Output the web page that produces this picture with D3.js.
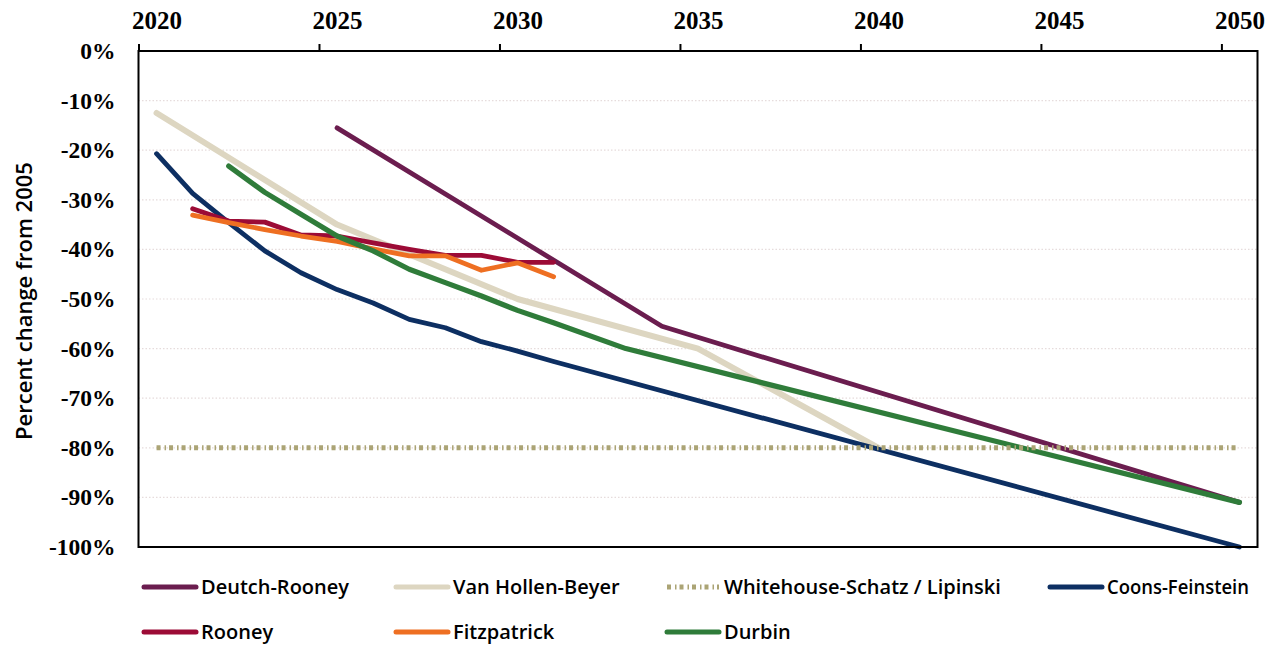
<!DOCTYPE html>
<html>
<head>
<meta charset="utf-8">
<script src="https://cdn.jsdelivr.net/npm/d3@7"></script>
<style>
  html, body { margin: 0; padding: 0; background: #fff; }
  svg { display: block; }
</style>
</head>
<body>
<svg id="chart" width="1276" height="646"></svg>
<script>
// ---- Data (percent change from 2005) ----
const xTickYears = [2020, 2025, 2030, 2035, 2040, 2045, 2050];
const yTickValues = [0, -10, -20, -30, -40, -50, -60, -70, -80, -90, -100];
const gridValues = [-10, -20, -30, -40, -50, -60, -70, -80, -90];

const seriesNames = ["Deutch-Rooney", "Van Hollen-Beyer", "Whitehouse-Schatz / Lipinski", "Coons-Feinstein", "Rooney", "Fitzpatrick", "Durbin"];

const deutchRooneyYears = [2025, 2034, 2050];
const deutchRooneyValues = [-15.5, -55.5, -91];

const vanHollenYears = [2020, 2025, 2030, 2035, 2040];
const vanHollenValues = [-12.5, -35, -50, -60, -80];

const whitehouseYears = [2020, 2050];
const whitehouseValues = [-80, -80];

const coonsYears = [2020, 2021, 2022, 2023, 2024, 2025, 2026, 2027, 2028, 2029, 2030, 2031, 2050];
const coonsValues = [-20.7, -28.7, -34.6, -40.3, -44.7, -48.1, -50.8, -54.1, -55.8, -58.6, -60.5, -62.6, -100];

const rooneyYears = [2021, 2022, 2023, 2024, 2025, 2026, 2027, 2028, 2029, 2030, 2031];
const rooneyValues = [-31.8, -34.3, -34.5, -37.1, -37.3, -38.7, -40.0, -41.2, -41.2, -42.6, -42.6];

const fitzpatrickYears = [2021, 2022, 2023, 2024, 2025, 2026, 2027, 2028, 2029, 2030, 2031];
const fitzpatrickValues = [-33.1, -34.6, -36.0, -37.3, -38.4, -39.9, -41.3, -41.3, -44.2, -42.7, -45.5];

const durbinYears = [2022, 2023, 2024, 2025, 2026, 2027, 2028, 2029, 2030, 2031, 2033, 2050];
const durbinValues = [-23.2, -28.5, -32.9, -37.3, -40.3, -44.0, -46.7, -49.4, -52.3, -54.8, -60.0, -91];

const seriesColors = ["#6b1d4f", "#ddd6c1", "#aba475", "#0d2f62", "#9c0b36", "#ee6f22", "#2f7c3a"];

// ---- Layout ----
const svg = d3.select("#chart");
const plot = { left: 138.5, right: 1257.5, top: 51, bottom: 547 };

const x = d3.scaleLinear().domain([2019.5, 2050.5]).range([plot.left, plot.right]);
const y = d3.scaleLinear().domain([-100, 0]).range([plot.bottom, plot.top]);

const serif = "'Liberation Serif', 'DejaVu Serif', serif";
const sans = "'Open Sans', 'Noto Sans', sans-serif";

// gridlines
svg.append("g").selectAll("line").data(gridValues).join("line")
  .attr("x1", plot.left).attr("x2", plot.right)
  .attr("y1", d => y(d)).attr("y2", d => y(d))
  .attr("stroke", "#e6dcdc").attr("stroke-width", 1.2)
  .attr("stroke-dasharray", "1.5,2");

// series
const series = [
  { years: deutchRooneyYears, values: deutchRooneyValues, w: 4.8 },
  { years: vanHollenYears, values: vanHollenValues, w: 6 },
  { years: whitehouseYears, values: whitehouseValues, w: 5, dash: true },
  { years: coonsYears, values: coonsValues, w: 4.8 },
  { years: rooneyYears, values: rooneyValues, w: 4.8 },
  { years: fitzpatrickYears, values: fitzpatrickValues, w: 4.8 },
  { years: durbinYears, values: durbinValues, w: 5.2 }
].map((s, i) => ({ ...s, name: seriesNames[i], color: seriesColors[i] }));

const line = d3.line().x(d => x(d[0])).y(d => y(d[1]));

const drawOrder = [0, 1, 3, 4, 5, 6, 2];
const lg = svg.append("g");
drawOrder.forEach(i => {
  const s = series[i];
  const pts = s.years.map((yr, j) => [yr, s.values[j]]);
  const p = lg.append("path").datum(pts)
    .attr("d", line)
    .attr("fill", "none")
    .attr("stroke", s.color)
    .attr("stroke-width", s.w)
    .attr("stroke-linejoin", "round");
  if (s.dash) {
    p.attr("stroke-dasharray", "4,4,1.5,3").attr("stroke-linecap", "butt");
  } else {
    p.attr("stroke-linecap", "round");
  }
});

// frame
svg.append("rect")
  .attr("x", plot.left).attr("y", plot.top)
  .attr("width", plot.right - plot.left).attr("height", plot.bottom - plot.top)
  .attr("fill", "none").attr("stroke", "#000").attr("stroke-width", 2);

// top axis: labels at category centers
const xLabelAxis = d3.axisTop(x).tickValues(xTickYears).tickSize(0).tickPadding(22).tickFormat(d3.format("d"));
const gx = svg.append("g").attr("transform", `translate(0,${plot.top})`).call(xLabelAxis);
gx.select(".domain").remove();
gx.selectAll("text").attr("font-family", serif).attr("font-size", 25).attr("font-weight", "bold").attr("fill", "#000");

// top axis tick marks at category boundaries
const xTickAxis = d3.axisTop(x).tickValues(xTickYears.map(v => v - 0.5)).tickSize(7).tickFormat("");
const gxt = svg.append("g").attr("transform", `translate(0,${plot.top})`).call(xTickAxis);
gxt.select(".domain").remove();
gxt.selectAll("line").attr("stroke", "#000").attr("stroke-width", 2);

// left axis
const yAxis = d3.axisLeft(y).tickValues(yTickValues).tickSize(0).tickPadding(23).tickFormat(d => d + "%");
const gy = svg.append("g").attr("transform", `translate(${plot.left},0)`).call(yAxis);
gy.select(".domain").remove();
gy.selectAll("text").attr("font-family", serif).attr("font-size", 23.5).attr("font-weight", "bold").attr("fill", "#000");

// y title
svg.append("text")
  .attr("transform", `translate(32,${(plot.top + plot.bottom) / 2 + 2}) rotate(-90)`)
  .attr("text-anchor", "middle")
  .attr("font-family", sans).attr("font-weight", 600).attr("font-size", 22)
  .attr("fill", "#000")
  .text("Percent change from 2005");

// legend
const legendCols = [144, 396, 667, 1050];
const legendRows = [587, 632];
const legendPos = [[0,0],[1,0],[2,0],[3,0],[0,1],[1,1],[2,1]];
series.forEach((s, i) => {
  const [c, r] = legendPos[i];
  const gx0 = legendCols[c], gy0 = legendRows[r];
  const g = svg.append("g").attr("transform", `translate(${gx0},${gy0})`);
  const l = g.append("line").attr("x1", 0).attr("x2", 52).attr("y1", 0).attr("y2", 0)
    .attr("stroke", s.color).attr("stroke-width", 5);
  if (s.dash) l.attr("stroke-dasharray", "4,4,1.5,3");
  else l.attr("stroke-linecap", "round");
  const t = g.append("text").attr("x", 57).attr("y", 0).attr("dy", "0.35em")
    .attr("font-family", sans).attr("font-weight", 600).attr("font-size", 20)
    .attr("fill", "#000").text(s.name);
  if (s.name === "Coons-Feinstein") t.attr("textLength", 142).attr("lengthAdjust", "spacingAndGlyphs");
});
</script>
</body>
</html>
